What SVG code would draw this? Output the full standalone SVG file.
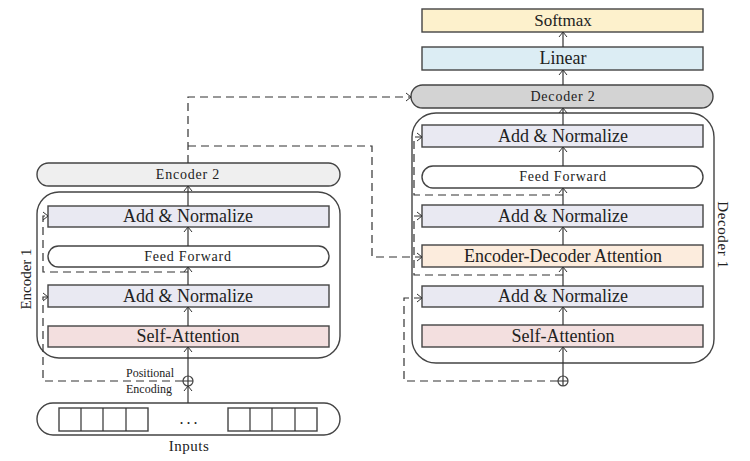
<svg xmlns="http://www.w3.org/2000/svg" width="750" height="461" viewBox="0 0 750 461">
<defs>
<marker id="ah" viewBox="-6 -5 7 10" markerWidth="7" markerHeight="10" refX="0" refY="0" orient="auto" markerUnits="userSpaceOnUse">
<path d="M-5,-4 L0,0 L-5,4" fill="none" stroke="#333" stroke-width="1"/>
</marker>
<style>
.box{stroke:#444;stroke-width:1.4}
.an{fill:#e9e9f2}
.sa{fill:#f3dfdf}
.ff{fill:#fff}
.t{font-family:"Liberation Serif","Times New Roman",serif;fill:#222;text-anchor:middle}
.big{font-size:18px}
.mid{font-size:14px;letter-spacing:0.8px}
.sm{font-size:12px}
.ln{fill:none;stroke:#333;stroke-width:1.2}
.dl{fill:none;stroke:#333;stroke-width:1.2;stroke-dasharray:8,5}
.ar{marker-end:url(#ah)}
</style>
</defs>
<rect width="750" height="461" fill="#fff"/>

<g id="encoder1-container"><rect x="37" y="192" width="303" height="166" rx="22" fill="none" class="box"/>
<text class="t" style="font-size:15px" transform="translate(31,279) rotate(-90)">Encoder 1</text></g>
<g id="encoder2"><rect x="37" y="163" width="303" height="23" rx="11.5" fill="#efefef" class="box"/><text class="t mid" x="188" y="179">Encoder 2</text></g>
<g id="enc-addnorm2"><rect x="48" y="206" width="281" height="21" class="box an"/><text class="t big" x="188" y="222">Add &amp; Normalize</text></g>
<g id="enc-ff"><rect x="48" y="246" width="281" height="21" rx="10.5" class="box ff"/><text class="t mid" x="188" y="261">Feed Forward</text></g>
<g id="enc-addnorm1"><rect x="48" y="285" width="281" height="22" class="box an"/><text class="t big" x="188" y="302">Add &amp; Normalize</text></g>
<g id="enc-sa"><rect x="48" y="326" width="281" height="21" class="box sa"/><text class="t big" x="188" y="342">Self-Attention</text></g>
<g id="enc-pos"><circle cx="188" cy="381" r="5" fill="#fff" class="box" style="stroke-width:1.2"/><path d="M183,381 H193 M188,376 V386" class="ln"/>
<text class="t sm" x="150" y="377">Positional</text><text class="t sm" x="149" y="393">Encoding</text></g>
<g id="inputs"><rect x="37" y="403" width="303" height="32" rx="16" fill="#fff" class="box"/>
<rect x="59" y="408" width="89" height="23" fill="none" class="box"/><path d="M81,408 V431 M103,408 V431 M126,408 V431" class="ln"/>
<rect x="228" y="408" width="89" height="23" fill="none" class="box"/><path d="M250,408 V431 M272,408 V431 M295,408 V431" class="ln"/>
<text class="t" style="font-size:16px;letter-spacing:3px" x="190" y="424">...</text>
<text class="t" style="font-size:15px;letter-spacing:0.5px" x="189" y="451">Inputs</text></g>

<g id="decoder1-container"><rect x="412" y="113" width="302" height="250" rx="24" fill="none" class="box"/>
<text class="t" style="font-size:15px;letter-spacing:0.6px" transform="translate(718,235) rotate(90)">Decoder 1</text></g>
<g id="softmax"><rect x="422" y="9" width="281" height="23" class="box" fill="#fdf1cc"/><text class="t" style="font-size:17px" x="563" y="26">Softmax</text></g>
<g id="linear"><rect x="422" y="47" width="281" height="23" class="box" fill="#dcedf4"/><text class="t big" x="563" y="64">Linear</text></g>
<g id="decoder2"><rect x="411" y="85" width="302" height="23" rx="11.5" class="box" fill="#d3d3d3"/><text class="t mid" x="563" y="101">Decoder 2</text></g>
<g id="dec-addnorm3"><rect x="422" y="125" width="281" height="22" class="box an"/><text class="t big" x="563" y="142">Add &amp; Normalize</text></g>
<g id="dec-ff"><rect x="422" y="166" width="281" height="22" rx="11" class="box ff"/><text class="t mid" x="563" y="181">Feed Forward</text></g>
<g id="dec-addnorm2"><rect x="422" y="205" width="281" height="22" class="box an"/><text class="t big" x="563" y="222">Add &amp; Normalize</text></g>
<g id="dec-eda"><rect x="422" y="245" width="281" height="22" class="box" fill="#fcecdd"/><text class="t big" x="563" y="262">Encoder-Decoder Attention</text></g>
<g id="dec-addnorm1"><rect x="422" y="286" width="281" height="21" class="box an"/><text class="t big" x="563" y="302">Add &amp; Normalize</text></g>
<g id="dec-sa"><rect x="422" y="325" width="281" height="22" class="box sa"/><text class="t big" x="563" y="342">Self-Attention</text></g>
<g id="dec-pos"><circle cx="563" cy="381" r="5" fill="#fff" class="box" style="stroke-width:1.2"/><path d="M558,381 H568 M563,376 V386" class="ln"/></g>

<g id="connectors">
<path d="M188,403 V386" class="ln ar"/>
<path d="M188,376 V347" class="ln ar"/>
<path d="M188,326 V307" class="ln ar"/>
<path d="M188,285 V267" class="ln ar"/>
<path d="M188,246 V227" class="ln ar"/>
<path d="M188,206 V186" class="ln ar"/>
<path d="M188,272 H43 V216 H48" class="dl ar"/>
<path d="M183,381 H43 V297 H48" class="dl ar"/>
<path d="M188,163 V97 H411" class="dl ar"/>
<path d="M188,146 H372 V257 H422" class="dl ar"/>
<path d="M563,376 V347" class="ln ar"/>
<path d="M563,325 V307" class="ln ar"/>
<path d="M563,286 V267" class="ln ar"/>
<path d="M563,245 V227" class="ln ar"/>
<path d="M563,205 V188" class="ln ar"/>
<path d="M563,166 V147" class="ln ar"/>
<path d="M563,125 V108" class="ln ar"/>
<path d="M563,85 V70" class="ln ar"/>
<path d="M563,47 V32" class="ln ar"/>
<path d="M563,195 H414 V137 H422" class="dl ar"/>
<path d="M563,275 H414 V216 H422" class="dl ar"/>
<path d="M558,381 H404 V298 H422" class="dl ar"/>
</g>
</svg>
